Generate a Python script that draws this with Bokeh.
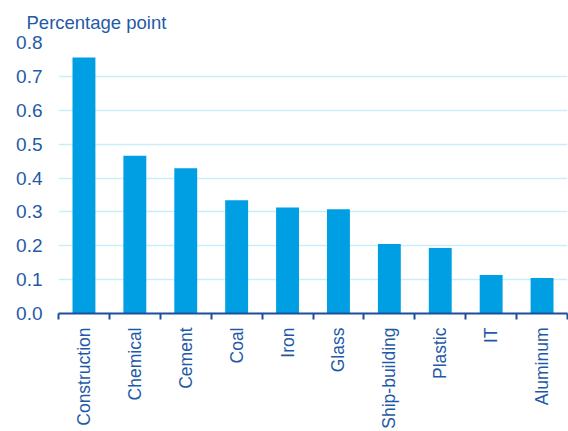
import math
from bokeh.plotting import figure
from bokeh.models import Range1d, FixedTicker, ColumnDataSource, Title
from bokeh.embed import file_html
from bokeh.resources import INLINE

categories = ["Construction", "Chemical", "Cement", "Coal", "Iron", "Glass",
              "Ship-building", "Plastic", "IT", "Aluminum"]
values = [0.756, 0.466, 0.429, 0.334, 0.313, 0.308, 0.205, 0.193, 0.114, 0.105]
y_ticks = [0.0, 0.1, 0.2, 0.3, 0.4, 0.5, 0.6, 0.7, 0.8]

BAR = "#009FE3"
TEXT = "#1F5AA8"
AXIS = "#1B4F9C"
GRID = "#C9EDFA"
FONT = "Liberation Sans"

centers = [i + 0.5 for i in range(len(categories))]
src = ColumnDataSource(dict(x=centers, top=values, cat=categories))

p = figure(width=568, height=431, output_backend="svg", toolbar_location=None,
           x_range=Range1d(0, len(categories)), y_range=Range1d(0, 0.8),
           min_border_left=58, min_border_right=1, min_border_top=42, min_border_bottom=116)
p.outline_line_color = None
p.background_fill_color = "white"
p.border_fill_color = "white"

p.vbar(x="x", top="top", width=0.45, bottom=0, source=src,
       fill_color=BAR, line_color=None)

p.add_layout(Title(text="Percentage point", text_font=FONT, text_font_size="18.5px",
                   text_font_style="normal", text_color=TEXT, align="left",
                   offset=-32, standoff=19), "above")

# x axis
xa = p.xaxis[0]
xa.ticker = FixedTicker(ticks=centers, minor_ticks=list(range(len(categories) + 1)))
xa.major_label_overrides = {c: lab for c, lab in zip(centers, categories)}
xa.major_label_orientation = math.pi / 2
xa.major_tick_out = 0
xa.major_tick_in = 0
xa.minor_tick_out = 6
xa.minor_tick_in = 0
xa.minor_tick_line_color = AXIS
xa.minor_tick_line_width = 2
xa.axis_line_color = AXIS
xa.axis_line_width = 2
xa.major_label_text_font = FONT
xa.major_label_text_font_size = "17.5px"
xa.major_label_text_color = TEXT
xa.major_label_standoff = 8

# y axis
ya = p.yaxis[0]
ya.ticker = FixedTicker(ticks=y_ticks)
ya.major_label_overrides = {t: f"{t:.1f}" for t in y_ticks}
ya.axis_line_color = None
ya.major_tick_line_color = None
ya.minor_tick_line_color = None
ya.major_label_text_font = FONT
ya.major_label_text_font_size = "19px"
ya.major_label_text_color = TEXT
ya.major_label_standoff = 10

p.xgrid.grid_line_color = None
p.ygrid.grid_line_color = GRID
p.ygrid.grid_line_width = 1.5

open("out.html", "w").write(file_html(p, INLINE))
